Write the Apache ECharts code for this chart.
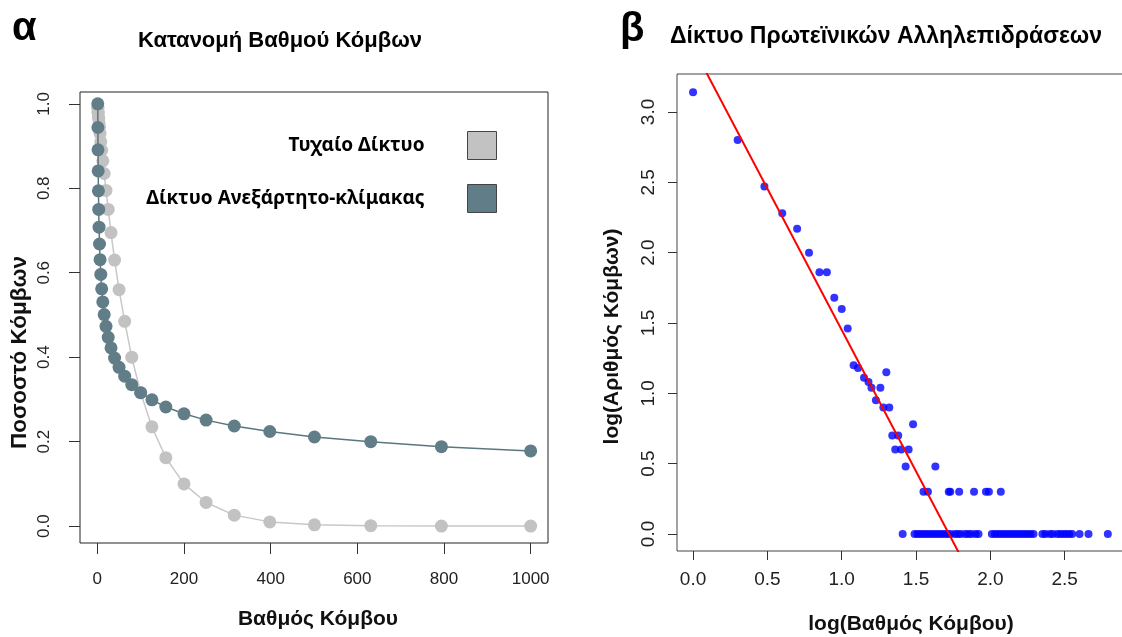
<!DOCTYPE html>
<html>
<head>
<meta charset="utf-8">
<script src="https://cdn.jsdelivr.net/npm/echarts@6/dist/echarts.min.js"></script>
<style>
html,body{margin:0;padding:0;background:#fff;}
#chart{width:1122px;height:637px;}
</style>
</head>
<body>
<div id="chart"></div>
<script>
// ---- Panel α : degree distribution (cumulative fraction of nodes) ----
const degreeX = [1, 1.26, 1.58, 2, 2.51, 3.16, 3.98, 5.01, 6.31, 7.94, 10, 12.6, 15.8, 20, 25.1, 31.6, 39.8, 50.1, 63.1, 79.4, 100, 126, 158, 200, 251, 316, 398, 501, 631, 794, 1000];
const randomFrac = [0.99, 0.99, 0.98, 0.98, 0.97, 0.965, 0.955, 0.945, 0.93, 0.91, 0.89, 0.865, 0.835, 0.795, 0.75, 0.695, 0.63, 0.56, 0.485, 0.40, 0.316, 0.235, 0.162, 0.10, 0.056, 0.026, 0.010, 0.003, 0.001, 0.0, 0.0];
const scaleFreeFrac = [1.00, 0.944, 0.891, 0.841, 0.794, 0.750, 0.708, 0.668, 0.631, 0.596, 0.562, 0.531, 0.501, 0.473, 0.447, 0.422, 0.398, 0.376, 0.355, 0.335, 0.316, 0.299, 0.282, 0.266, 0.251, 0.237, 0.224, 0.211, 0.200, 0.188, 0.178];
const leftXTicks = [0, 200, 400, 600, 800, 1000];
const leftYTicks = [0, 0.2, 0.4, 0.6, 0.8, 1.0];
const seriesNames = ['Τυχαίο Δίκτυο', 'Δίκτυο Ανεξάρτητο-κλίμακας'];

// ---- Panel β : protein interaction network, log-log ----
const upperLogK = [0, 0.30, 0.48, 0.60, 0.70, 0.78, 0.85, 0.90, 0.95, 1.00, 1.04, 1.08, 1.11, 1.15, 1.18, 1.20, 1.23, 1.26, 1.28, 1.30, 1.32, 1.34, 1.36, 1.38, 1.40, 1.43, 1.45, 1.48, 1.63];
const upperLogN = [3.14, 2.80, 2.47, 2.28, 2.17, 2.00, 1.86, 1.86, 1.68, 1.60, 1.46, 1.20, 1.18, 1.11, 1.08, 1.04, 0.95, 1.04, 0.90, 1.15, 0.90, 0.70, 0.60, 0.70, 0.60, 0.48, 0.60, 0.78, 0.48];
const twoNodesLogN = 0.30;
const twoNodesLogK = [1.55, 1.58, 1.72, 1.73, 1.79, 1.89, 1.97, 1.99, 2.07];
const oneNodeLogN = 0;
const oneNodeLogK = [1.41, 1.49, 1.51, 1.53, 1.55, 1.57, 1.59, 1.61, 1.63, 1.65, 1.67, 1.69, 1.71, 1.73, 1.76, 1.78, 1.80, 1.83, 1.85, 1.87, 1.90, 1.92, 2.01, 2.03, 2.05, 2.07, 2.09, 2.11, 2.13, 2.15, 2.17, 2.19, 2.21, 2.23, 2.25, 2.27, 2.29, 2.35, 2.37, 2.40, 2.42, 2.45, 2.47, 2.49, 2.51, 2.53, 2.55, 2.60, 2.66, 2.79];
const fitIntercept = 3.46;
const fitSlope = -2.01;
const rightXTicks = [0, 0.5, 1.0, 1.5, 2.0, 2.5];
const rightYTicks = [0, 0.5, 1.0, 1.5, 2.0, 2.5, 3.0];

// ---- build ----
const randomData = degreeX.map((x, i) => [x, randomFrac[i]]);
const scaleFreeData = degreeX.map((x, i) => [x, scaleFreeFrac[i]]);
const proteinData = upperLogK.map((x, i) => [x, upperLogN[i]])
  .concat(twoNodesLogK.map(x => [x, twoNodesLogN]))
  .concat(oneNodeLogK.map(x => [x, oneNodeLogN]));
const rXMin = -0.108, rXMax = 3.04;
const fitData = [[rXMin, fitIntercept + fitSlope * rXMin], [rXMax, fitIntercept + fitSlope * rXMax]];

const FONT = '"Liberation Sans", Arial, sans-serif';
const GREY = '#c2c2c2';
const SLATE = '#617d87';

function valueAxis(opt) {
  return Object.assign({
    type: 'value',
    scale: false,
    axisLine: { show: false, onZero: false },
    splitLine: { show: false },
    axisTick: { show: true, inside: false, lineStyle: { color: '#333', width: 1 } },
    axisLabel: { color: '#222', fontFamily: FONT },
    nameLocation: 'middle',
    nameTextStyle: { fontFamily: FONT, fontWeight: 'bold', fontSize: 21, color: '#111' }
  }, opt);
}

const legendCommon = {
  orient: 'vertical', align: 'right', padding: 0,
  itemWidth: 29, itemHeight: 28,
  itemStyle: { borderColor: '#444', borderWidth: 1 },
  lineStyle: { width: 0, opacity: 0 },
  selectedMode: false,
  textStyle: { fontFamily: '"Noto Sans", sans-serif', fontWeight: 'bold', fontSize: 19, color: '#000', padding: [0, 38, 0, 0] }
};

const chart = echarts.init(document.getElementById('chart'), null, { renderer: 'canvas' });
chart.setOption({
  animation: false,
  backgroundColor: '#ffffff',
  title: [
    { text: 'α', left: 12, top: 9, padding: 0, textStyle: { fontFamily: FONT, fontWeight: 'bold', fontSize: 40, color: '#000' } },
    { text: 'Κατανομή Βαθμού Κόμβων', left: 138, top: 30, padding: 0, textStyle: { fontFamily: FONT, fontWeight: 'bold', fontSize: 22, color: '#000' } },
    { text: 'β', left: 620, top: 10, padding: 0, textStyle: { fontFamily: FONT, fontWeight: 'bold', fontSize: 40, color: '#000' } },
    { text: 'Δίκτυο Πρωτεϊνικών Αλληλεπιδράσεων', left: 670, top: 25, padding: 0, textStyle: { fontFamily: FONT, fontWeight: 'bold', fontSize: 23, color: '#000' } }
  ],
  legend: [
    Object.assign({ data: [{ name: seriesNames[0], icon: 'rect' }], right: 625, top: 131 }, legendCommon),
    Object.assign({ data: [{ name: seriesNames[1], icon: 'rect' }], right: 625, top: 184 }, legendCommon)
  ],
  grid: [
    { left: 80, top: 92, width: 468, height: 451, outerBoundsMode: 'none', containLabel: false, show: true, borderColor: '#222', borderWidth: 1, backgroundColor: 'transparent' },
    { left: 677, top: 74, width: 468, height: 477, outerBoundsMode: 'none', containLabel: false, show: true, borderColor: '#444', borderWidth: 1, backgroundColor: 'transparent' }
  ],
  xAxis: [
    valueAxis({
      gridIndex: 0, min: -40, max: 1040,
      axisTick: { show: true, length: 11, customValues: leftXTicks, lineStyle: { color: '#333' } },
      axisLabel: { customValues: leftXTicks, fontSize: 17, color: '#222', fontFamily: FONT, margin: 28, formatter: v => String(v) },
      name: 'Βαθμός Κόμβου', nameGap: 66,
      nameTextStyle: { fontFamily: FONT, fontWeight: 'bold', fontSize: 21, color: '#111', padding: [0, 0, 0, 8] }
    }),
    valueAxis({
      gridIndex: 1, min: rXMin, max: rXMax,
      axisTick: { show: true, length: 9, customValues: rightXTicks, lineStyle: { color: '#333' } },
      axisLabel: { customValues: rightXTicks, fontSize: 19, color: '#222', fontFamily: FONT, margin: 19, formatter: v => v.toFixed(1) },
      name: 'log(Βαθμός Κόμβου)', nameGap: 63
    })
  ],
  yAxis: [
    valueAxis({
      gridIndex: 0, min: -0.04, max: 1.028,
      axisTick: { show: true, length: 11, customValues: leftYTicks, lineStyle: { color: '#333' } },
      axisLabel: { customValues: leftYTicks, fontSize: 17, color: '#222', fontFamily: FONT, margin: 27, rotate: 90, formatter: v => v.toFixed(1) },
      name: 'Ποσοστό Κόμβων', nameGap: 49,
      nameTextStyle: { fontFamily: FONT, fontWeight: 'bold', fontSize: 22.5, color: '#111', padding: [0, 70, 0, 0] }
    }),
    valueAxis({
      gridIndex: 1, min: -0.121, max: 3.27,
      axisTick: { show: true, length: 9, customValues: rightYTicks, lineStyle: { color: '#333' } },
      axisLabel: { customValues: rightYTicks, fontSize: 19, color: '#222', fontFamily: FONT, margin: 19, rotate: 90, formatter: v => v.toFixed(1) },
      name: 'log(Αριθμός Κόμβων)', nameGap: 54,
      nameTextStyle: { fontFamily: FONT, fontWeight: 'bold', fontSize: 21, color: '#111', padding: [0, 48, 0, 0] }
    })
  ],
  series: [
    {
      name: seriesNames[0], type: 'line', xAxisIndex: 0, yAxisIndex: 0,
      data: randomData, symbol: 'circle', symbolSize: 13,
      itemStyle: { color: GREY }, lineStyle: { color: '#c8c8c8', width: 1.5 }, z: 2
    },
    {
      name: seriesNames[1], type: 'line', xAxisIndex: 0, yAxisIndex: 0,
      data: scaleFreeData, symbol: 'circle', symbolSize: 13,
      itemStyle: { color: SLATE }, lineStyle: { color: '#5a7680', width: 1.5 }, z: 3
    },
    {
      name: 'protein', type: 'scatter', xAxisIndex: 1, yAxisIndex: 1,
      data: proteinData, symbol: 'circle', symbolSize: 8,
      itemStyle: { color: '#0000ff' }, z: 3
    },
    {
      name: 'fit', type: 'line', xAxisIndex: 1, yAxisIndex: 1,
      data: fitData, symbol: 'none', clip: true,
      lineStyle: { color: '#ff0000', width: 2 }, z: 4
    }
  ]
});
</script>
</body>
</html>
